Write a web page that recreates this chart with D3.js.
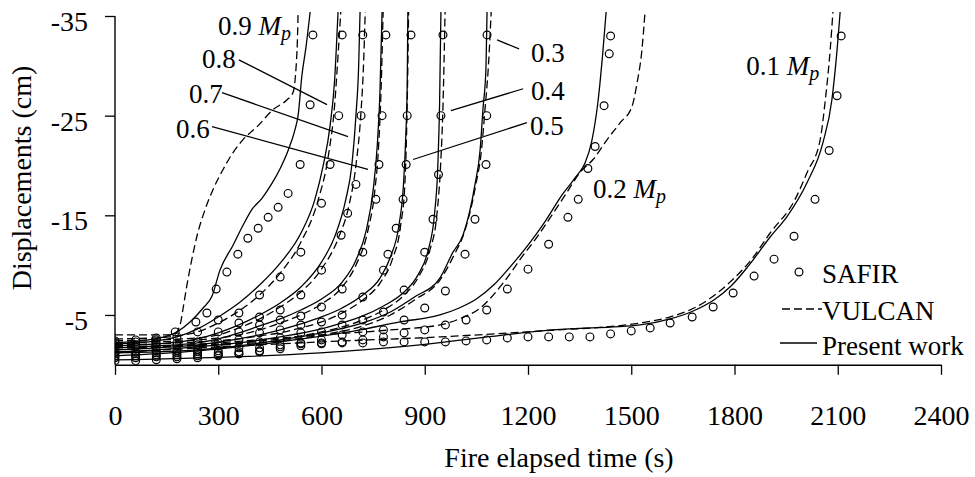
<!DOCTYPE html>
<html>
<head>
<meta charset="utf-8">
<script src="https://cdn.jsdelivr.net/npm/d3@7"></script>
<style>
  body { margin: 0; background: #fff; }
  svg { display: block; }
  text { font-family: "Liberation Serif", "Times New Roman", serif; fill: #000; }
</style>
</head>
<body>
<div id="chart"></div>
<script>
// --------------------------------------------------------------------
// Beam mid-span displacement vs fire time, load ratios 0.1 .. 0.9 Mp
// SAFIR (circles), VULCAN (dashed), Present work (solid)
// --------------------------------------------------------------------

const xTicks = [0, 300, 600, 900, 1200, 1500, 1800, 2100, 2400];
const yTicks = [-5, -15, -25, -35];

// ---- SAFIR [time s, displacement cm]
const safir09 = [[0,-2.4],[60,-2.5],[120,-2.7],[175,-3.3],[235,-4.3],[267,-5.2],[294,-7.6],[325,-9.3],[357,-11.1],[386,-12.7],[416,-13.7],[445,-14.8],[474,-15.8],[503,-17.2],[538,-20.1],[567,-26.1],[575,-33.1]];
const safir08 = [[0,-2.2],[60,-2.3],[120,-2.5],[180,-2.8],[240,-3.3],[300,-4.5],[360,-5.2],[420,-7.0],[480,-8.8],[540,-11.3],[600,-16.2],[625,-20.1],[650,-25.0],[660,-33.1]];
const safir07 = [[0,-1.9],[60,-2.0],[120,-2.1],[180,-2.2],[240,-2.3],[300,-3.3],[360,-4.2],[420,-4.8],[480,-5.5],[540,-7.0],[600,-9.5],[657,-13.0],[676,-15.2],[700,-18.1],[715,-25.0],[720,-33.1]];
const safir06 = [[0,-1.7],[60,-1.8],[120,-1.8],[180,-1.9],[240,-2.0],[300,-2.2],[360,-3.3],[420,-4.0],[480,-4.5],[540,-4.9],[600,-5.8],[660,-7.6],[720,-11.3],[758,-16.6],[767,-20.1],[776,-25.0],[787,-33.1]];
const safir05 = [[0,-1.3],[60,-1.3],[120,-1.4],[180,-1.4],[240,-1.5],[300,-1.9],[360,-2.5],[420,-3.2],[480,-3.5],[540,-4.0],[600,-4.3],[660,-5.0],[720,-6.8],[780,-9.5],[793,-11.1],[817,-13.7],[837,-16.6],[846,-20.1],[849,-25.0],[860,-33.1]];
const safir04 = [[0,-1.1],[60,-1.1],[120,-1.2],[180,-1.2],[240,-1.3],[300,-1.4],[360,-1.7],[420,-2.3],[480,-2.7],[540,-3.2],[600,-3.3],[660,-4.0],[720,-4.5],[780,-5.3],[840,-7.5],[900,-11.3],[924,-14.6],[940,-19.1],[947,-25.0],[953,-33.1]];
const safir03 = [[0,-0.9],[60,-0.9],[120,-1.0],[180,-1.0],[240,-1.1],[300,-1.2],[360,-1.3],[420,-1.7],[480,-2.0],[540,-2.2],[600,-2.5],[660,-3.0],[720,-3.3],[780,-3.5],[840,-4.5],[900,-5.7],[960,-7.4],[1017,-11.1],[1046,-14.6],[1078,-20.1],[1080,-25.0],[1081,-33.1]];
const safir02 = [[0,-0.7],[60,-0.7],[120,-0.8],[180,-0.8],[240,-0.9],[300,-1.0],[360,-1.1],[420,-1.4],[480,-1.8],[540,-2.1],[600,-2.2],[660,-2.3],[720,-2.5],[780,-2.8],[840,-3.2],[900,-3.5],[960,-4.0],[1020,-4.5],[1080,-5.5],[1140,-7.6],[1200,-9.6],[1260,-12.1],[1316,-14.8],[1346,-16.6],[1374,-19.7],[1395,-21.9],[1421,-26.0],[1436,-31.2],[1440,-33.0]];
const safir01 = [[0,-0.4],[60,-0.4],[120,-0.5],[180,-0.6],[240,-0.7],[300,-0.9],[360,-1.1],[420,-1.3],[480,-1.6],[540,-1.9],[600,-2.1],[660,-2.2],[720,-2.2],[780,-2.3],[840,-2.3],[900,-2.3],[960,-2.3],[1020,-2.4],[1080,-2.5],[1140,-2.7],[1200,-2.8],[1260,-2.8],[1320,-2.8],[1380,-2.8],[1440,-3.1],[1500,-3.4],[1555,-3.7],[1613,-4.2],[1677,-4.8],[1738,-5.8],[1796,-7.2],[1857,-8.9],[1915,-10.6],[1973,-12.9],[2034,-16.6],[2075,-21.5],[2098,-27.0],[2110,-33.0]];

// ---- VULCAN
const vulcan09 = [[0,-3.0],[170,-3.0],[189,-4.0],[198,-5.7],[209,-8.0],[224,-10.7],[241,-13.3],[262,-15.6],[285,-17.6],[314,-19.6],[343,-21.3],[372,-22.6],[413,-23.9],[459,-25.6],[500,-26.6],[517,-27.3],[529,-31.6],[532,-35.4]];
const vulcan08 = [[0,-2.6],[120,-2.7],[180,-2.9],[240,-3.3],[300,-4.2],[360,-5.4],[420,-7.0],[480,-9.2],[540,-12.3],[590,-16.5],[620,-21.0],[638,-26.0],[648,-31.0],[656,-35.4]];
const vulcan07 = [[0,-2.4],[120,-2.5],[240,-2.7],[300,-3.0],[360,-3.7],[420,-4.6],[480,-5.8],[540,-7.3],[600,-9.6],[650,-12.8],[680,-16.0],[700,-20.0],[714,-25.0],[722,-30.0],[727,-35.4]];
const vulcan06 = [[0,-2.2],[120,-2.3],[240,-2.5],[300,-2.7],[360,-3.0],[420,-3.5],[480,-4.2],[540,-5.0],[600,-6.1],[660,-7.8],[700,-10.0],[735,-13.5],[755,-17.5],[766,-22.0],[773,-27.5],[779,-35.4]];
const vulcan05 = [[0,-2.0],[120,-2.1],[240,-2.3],[360,-2.6],[420,-2.9],[480,-3.2],[540,-3.7],[600,-4.3],[660,-5.2],[720,-6.5],[770,-8.2],[805,-10.5],[830,-14.0],[842,-18.0],[847,-23.0],[850,-28.0],[853,-35.4]];
const vulcan04 = [[0,-1.8],[120,-1.9],[240,-2.0],[360,-2.2],[480,-2.6],[600,-3.3],[660,-3.8],[720,-4.5],[780,-5.5],[840,-7.0],[885,-9.0],[915,-11.5],[935,-15.0],[946,-20.0],[953,-26.0],[959,-35.4]];
const vulcan03 = [[0,-1.7],[120,-1.8],[240,-1.9],[360,-2.1],[480,-2.4],[600,-3.0],[720,-3.9],[800,-5.0],[870,-6.5],[944,-8.5],[985,-11.0],[1015,-13.3],[1048,-18.0],[1065,-21.6],[1075,-25.6],[1085,-30.0],[1093,-35.4]];
const vulcan02 = [[0,-1.5],[300,-2.2],[600,-3.0],[800,-3.5],[944,-4.0],[1000,-4.6],[1061,-5.7],[1130,-8.3],[1186,-11.0],[1226,-12.8],[1273,-15.2],[1313,-17.3],[1351,-19.3],[1389,-20.6],[1430,-22.6],[1468,-24.3],[1502,-25.9],[1517,-28.3],[1531,-31.6],[1540,-35.4]];
const vulcan01 = [[0,-1.2],[300,-1.8],[600,-2.3],[944,-2.8],[1235,-3.4],[1526,-4.2],[1613,-4.8],[1709,-6.2],[1787,-8.3],[1850,-10.6],[1903,-13.2],[1976,-16.6],[2011,-19.3],[2049,-22.6],[2063,-26.3],[2078,-31.6],[2086,-35.4]];

// ---- Present work
const present09 = [[0,-2.2],[131,-2.7],[180,-3.3],[218,-4.3],[256,-5.7],[282,-6.9],[305,-9.5],[343,-12.0],[372,-14.0],[398,-15.6],[427,-16.7],[456,-18.2],[480,-19.7],[503,-21.5],[523,-23.6],[532,-25.0],[543,-29.0],[555,-31.9],[567,-35.4]];
const present08 = [[0,-2.1],[120,-2.4],[180,-2.8],[240,-3.6],[300,-4.8],[360,-6.2],[420,-8.0],[480,-10.2],[540,-13.2],[580,-16.5],[605,-20.0],[625,-24.0],[638,-28.5],[648,-35.4]];
const present07 = [[0,-1.9],[120,-2.1],[240,-2.6],[300,-3.2],[360,-4.0],[420,-5.0],[480,-6.2],[540,-7.8],[600,-10.3],[640,-13.0],[670,-16.5],[688,-20.0],[700,-25.0],[708,-30.0],[712,-35.4]];
const present06 = [[0,-1.7],[120,-1.9],[240,-2.2],[300,-2.6],[360,-3.2],[420,-3.9],[480,-4.6],[540,-5.5],[600,-6.6],[660,-8.3],[700,-10.5],[730,-13.5],[750,-17.5],[762,-22.0],[770,-27.5],[776,-35.4]];
const present05 = [[0,-1.5],[120,-1.7],[240,-2.0],[360,-2.6],[420,-3.0],[480,-3.5],[540,-4.1],[600,-4.8],[660,-5.7],[720,-7.0],[770,-8.7],[800,-10.8],[825,-14.0],[838,-18.0],[845,-23.0],[849,-28.0],[851,-35.4]];
const present04 = [[0,-1.3],[120,-1.5],[240,-1.8],[360,-2.2],[480,-2.8],[600,-3.6],[660,-4.2],[720,-4.9],[780,-5.9],[840,-7.3],[880,-9.0],[910,-11.5],[928,-15.0],[938,-20.0],[943,-26.0],[947,-35.4]];
const present03 = [[0,-1.2],[120,-1.3],[240,-1.5],[360,-1.9],[480,-2.5],[600,-3.2],[720,-4.2],[800,-5.3],[870,-6.8],[944,-8.7],[982,-11.3],[1011,-13.0],[1046,-18.1],[1061,-21.6],[1069,-25.6],[1078,-29.9],[1081,-35.4]];
const present02 = [[0,-0.9],[240,-1.4],[480,-2.3],[712,-3.5],[828,-4.3],[944,-5.0],[1000,-5.7],[1050,-6.6],[1100,-8.0],[1150,-9.9],[1200,-12.0],[1250,-14.4],[1300,-17.1],[1340,-18.9],[1365,-20.2],[1385,-22.4],[1404,-26.6],[1418,-31.6],[1427,-35.4]];
const present01 = [[0,-0.5],[596,-1.2],[886,-2.0],[1081,-2.8],[1273,-3.5],[1526,-4.0],[1613,-4.6],[1680,-5.4],[1740,-6.5],[1790,-7.9],[1840,-9.9],[1903,-12.8],[1953,-14.9],[2011,-18.3],[2057,-22.3],[2083,-26.6],[2098,-31.6],[2107,-35.4]];

const safirAll   = [safir01, safir02, safir03, safir04, safir05, safir06, safir07, safir08, safir09];
const vulcanAll  = [vulcan01, vulcan02, vulcan03, vulcan04, vulcan05, vulcan06, vulcan07, vulcan08, vulcan09];
const presentAll = [present01, present02, present03, present04, present05, present06, present07, present08, present09];

// ---- curve labels: anchor [time, displacement], optional leader line
const loadLabels = [
  { txt: "0.9", mp: true,  at: [299, -33.1] },
  { txt: "0.8", mp: false, at: [253, -29.8], from: [360, -30.6], to: [616, -26.1] },
  { txt: "0.7", mp: false, at: [215, -26.3], from: [311, -27.3], to: [677, -22.9] },
  { txt: "0.6", mp: false, at: [177, -22.8], from: [282, -23.9], to: [735, -19.6] },
  { txt: "0.5", mp: false, at: [1206, -23.1], from: [1197, -24.3], to: [866, -20.6] },
  { txt: "0.4", mp: false, at: [1209, -26.6], from: [1186, -27.7], to: [976, -25.5] },
  { txt: "0.3", mp: false, at: [1209, -30.4], from: [1174, -31.7], to: [1110, -32.6] },
  { txt: "0.2", mp: true,  at: [1389, -16.7] },
  { txt: "0.1", mp: true,  at: [1834, -29.1] }
];

// --------------------------------------------------------------------
const width = 975, height = 477;
const plot = { left: 115, right: 941, top: 16, bottom: 364.8 };

const svg = d3.select("#chart").append("svg")
  .attr("width", width)
  .attr("height", height);

const x = d3.scaleLinear().domain([0, 2400]).range([plot.left, plot.right]);
const y = d3.scaleLinear().domain([0, -35]).range([plot.bottom, plot.top]);

svg.append("defs").append("clipPath").attr("id", "clip")
  .append("rect")
  .attr("x", plot.left).attr("y", 11)
  .attr("width", plot.right - plot.left).attr("height", plot.bottom - 11);

const line = d3.line()
  .curve(d3.curveMonotoneX)
  .x(d => x(d[0])).y(d => y(d[1]));

const curves = svg.append("g").attr("clip-path", "url(#clip)");

curves.selectAll("path.vulcan")
  .data(vulcanAll)
  .enter().append("path")
  .attr("class", "vulcan")
  .attr("d", line)
  .attr("fill", "none")
  .attr("stroke", "#000")
  .attr("stroke-width", 1.3)
  .attr("stroke-dasharray", "8,4");

curves.selectAll("path.present")
  .data(presentAll)
  .enter().append("path")
  .attr("class", "present")
  .attr("d", line)
  .attr("fill", "none")
  .attr("stroke", "#000")
  .attr("stroke-width", 1.3);

curves.selectAll("g.safir")
  .data(safirAll)
  .enter().append("g")
  .attr("class", "safir")
  .selectAll("circle")
  .data(d => d)
  .enter().append("circle")
  .attr("cx", d => x(d[0]))
  .attr("cy", d => y(d[1]))
  .attr("r", 3.9)
  .attr("fill", "none")
  .attr("stroke", "#000")
  .attr("stroke-width", 1.2);

// ---- axes
const xAxis = svg.append("g")
  .attr("transform", `translate(0,${plot.bottom})`)
  .call(d3.axisBottom(x).tickValues(xTicks).tickFormat(d => String(d))
    .tickSize(10).tickSizeOuter(0).tickPadding(30));
xAxis.select(".domain").attr("stroke-width", 1.4);
xAxis.selectAll(".tick line").attr("stroke-width", 1.3);
xAxis.selectAll("text").style("font-size", "28px").style("font-family", "Liberation Serif");

const yAxis = svg.append("g")
  .attr("transform", `translate(${plot.left},0)`)
  .call(d3.axisLeft(y).tickValues(yTicks).tickFormat(d => String(d))
    .tickSize(10).tickSizeOuter(0).tickPadding(17));
yAxis.select(".domain").attr("stroke-width", 1.4)
  .attr("d", `M0,${y(-35)}V${plot.bottom}`);
yAxis.selectAll(".tick line").attr("stroke-width", 1.3);
yAxis.selectAll("text")
  .style("font-size", "28px").style("font-family", "Liberation Serif")
  .attr("dy", "0.52em");

// ---- axis titles
svg.append("text")
  .attr("x", 559).attr("y", 467)
  .attr("text-anchor", "middle")
  .style("font-size", "28px")
  .text("Fire elapsed time (s)");

svg.append("text")
  .attr("transform", "translate(31,178) rotate(-90)")
  .attr("text-anchor", "middle")
  .style("font-size", "28px")
  .text("Displacements (cm)");

// ---- load ratio labels + leaders
const lab = svg.append("g");
loadLabels.forEach(l => {
  const t = lab.append("text")
    .attr("x", x(l.at[0])).attr("y", y(l.at[1]))
    .style("font-size", "27px");
  t.append("tspan").text(l.txt);
  if (l.mp) {
    t.append("tspan").text(" M").style("font-style", "italic");
    t.append("tspan").text("p").style("font-style", "italic")
      .style("font-size", "20px").attr("dy", 5);
  }
  if (l.from) {
    lab.append("line")
      .attr("x1", x(l.from[0])).attr("y1", y(l.from[1]))
      .attr("x2", x(l.to[0])).attr("y2", y(l.to[1]))
      .attr("stroke", "#000").attr("stroke-width", 1.3);
  }
});

// ---- legend
const legend = svg.append("g").attr("transform", "translate(780,0)");
legend.append("circle").attr("cx", 19).attr("cy", 272).attr("r", 3.9)
  .attr("fill", "none").attr("stroke", "#000").attr("stroke-width", 1.2);
legend.append("line").attr("x1", 2).attr("x2", 42).attr("y1", 309).attr("y2", 309)
  .attr("stroke", "#000").attr("stroke-width", 1.3).attr("stroke-dasharray", "8,4");
legend.append("line").attr("x1", 0).attr("x2", 37).attr("y1", 343).attr("y2", 343)
  .attr("stroke", "#000").attr("stroke-width", 1.3);
[["SAFIR", 283], ["VULCAN", 320], ["Present work", 355]].forEach(([s, yy]) => {
  legend.append("text").attr("x", 42).attr("y", yy)
    .style("font-size", "27px").text(s);
});
</script>
</body>
</html>
